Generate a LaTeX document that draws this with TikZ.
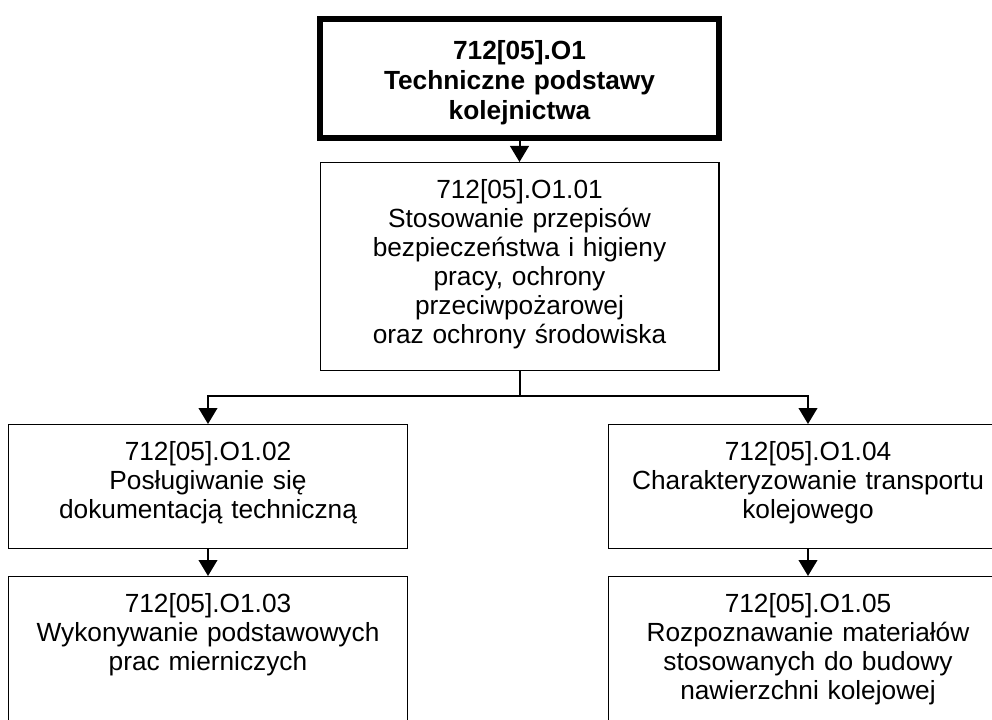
\documentclass[tikz,border=0pt]{standalone}
\usepackage{fontspec}
\setmainfont{Liberation Sans}
\usetikzlibrary{arrows.meta}
\begin{document}
\begin{tikzpicture}[x=0.75pt,y=-0.75pt,
    box/.style = {draw, line width=1pt, anchor=north, align=center, text width=299pt,
        inner xsep=0pt, inner ysep=0pt, text height=27pt,
        font=\fontsize{19.7pt}{21.75pt}\selectfont},
    topbox/.style = {box, line width=4.5pt, text height=30.5pt, text depth=58.5pt,
        font=\fontsize{19.7pt}{22.5pt}\selectfont\bfseries},
    link/.style = {line width=1.5pt},
    arr/.style = {link, -{Triangle[length=12pt,width=14pt]}}]
    \useasboundingbox (0,0) rectangle (992,720);
    \clip (0,0) rectangle (992,720);
    \node[topbox] (o1) at (519.5,16) {712[05].O1\\Techniczne podstawy\\kolejnictwa};
    \node[box, text depth=129pt] (o101) at (519.5,162) {712[05].O1.01\\Stosowanie przepisów\\bezpieczeństwa i higieny\\pracy, ochrony\\przeciwpożarowej\\oraz ochrony środowiska};
    \node[box, text depth=66pt] (o102) at (208,424) {712[05].O1.02\\Posługiwanie się\\dokumentacją techniczną};
    \node[box, text depth=150pt] (o103) at (208,576) {712[05].O1.03\\Wykonywanie podstawowych\\prac mierniczych};
    \node[box, text depth=66pt] (o104) at (808,424) {712[05].O1.04\\Charakteryzowanie transportu\\kolejowego};
    \node[box, text depth=150pt] (o105) at (808,576) {712[05].O1.05\\Rozpoznawanie materiałów\\stosowanych do budowy\\nawierzchni kolejowej};
    \coordinate (split) at (519.5,396);
    \draw[arr] (o1.south) -- (o101.north);
    \draw[link] (o101.south) -- (split);
    \draw[arr] (split) -| (o102.north);
    \draw[arr] (split) -| (o104.north);
    \draw[arr] (o102.south) -- (o103.north);
    \draw[arr] (o104.south) -- (o105.north);
\end{tikzpicture}
\end{document}
